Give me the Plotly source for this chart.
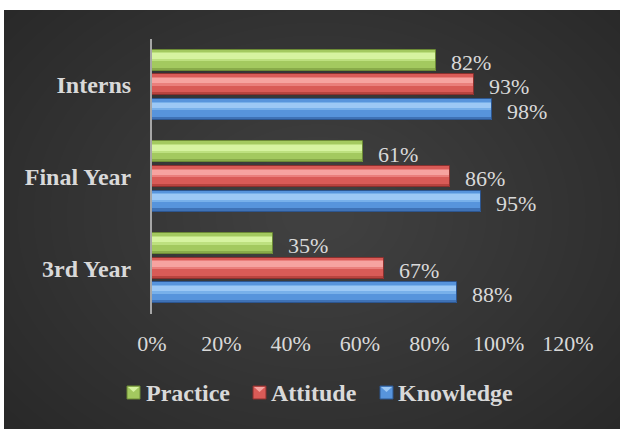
import plotly.graph_objects as go

# ---- data -------------------------------------------------------------
groups = ["3rd Year", "Final Year", "Interns"]
practice = [35, 61, 82]
attitude = [67, 86, 93]
knowledge = [88, 95, 98]
series_names = ["Practice", "Attitude", "Knowledge"]
x_ticks = [0, 20, 40, 60, 80, 100, 120]

# ---- styling ----------------------------------------------------------
W, H = 620, 429
M_L, M_R, M_T, M_B = 152, 52, 39, 115
PW, PH = W - M_L - M_R, H - M_T - M_B

FONT = "Liberation Serif"
TXT = "#d9d9d9"

palette = {
    "Practice": dict(body="#a3c95f", mid="#bde07f", light="#d6f3a0", dark="#89ab4a", edge="#6c8a36"),
    "Attitude": dict(body="#d95b57", mid="#ea7f7c", light="#f6a3a0", dark="#b8443f", edge="#8a302e"),
    "Knowledge": dict(body="#5794dc", mid="#78b0ea", light="#9cc8f5", dark="#3f72b6", edge="#2d5690"),
}

BAR_H = 0.23        # bar thickness in category units
PITCH = 0.268       # distance between bar centres inside a group
centres = {"Practice": PITCH, "Attitude": 0.0, "Knowledge": -PITCH}
values = {"Practice": practice, "Attitude": attitude, "Knowledge": knowledge}

# shading bands: (key, offset from bar centre, band width) in category units
bands = [
    ("mid", -0.01, 0.095),
    ("light", 0.015, 0.06),
    ("dark", -BAR_H / 2, 0.035),
]


def px_x(px):
    return (px - M_L) / PW


def px_y(py):
    return (H - M_B - py) / PH


fig = go.Figure()

for name in series_names:
    c = centres[name]
    col = palette[name]
    vals = values[name]
    fig.add_trace(go.Bar(
        x=vals, y=groups, orientation="h", name=name,
        offset=c - BAR_H / 2, width=BAR_H,
        marker=dict(color=col["body"], line=dict(width=0)),
        showlegend=False, hovertemplate=name + ": %{x}%<extra></extra>",
    ))
    for key, off, wid in bands:
        fig.add_trace(go.Bar(
            x=vals, y=groups, orientation="h",
            offset=c + off, width=wid,
            marker=dict(color=col[key], line=dict(width=0)),
            showlegend=False, hoverinfo="skip",
        ))
    fig.add_trace(go.Bar(
        x=vals, y=groups, orientation="h",
        offset=c - BAR_H / 2, width=BAR_H,
        marker=dict(color="rgba(0,0,0,0)", line=dict(width=1, color=col["edge"])),
        showlegend=False, hoverinfo="skip",
    ))

# value labels to the right of each bar
annotations = []
shift_px = {"Practice": 24.5, "Attitude": 0.0, "Knowledge": -24.5}
for name in series_names:
    for g, v in zip(groups, values[name]):
        annotations.append(dict(
            x=v, y=g, xref="x", yref="y", text=f"{v}%",
            showarrow=False, xanchor="left", yanchor="middle",
            xshift=13, yshift=shift_px[name] - 2,
            font=dict(family=FONT, size=22, color=TXT),
        ))

# legend drawn as swatches + labels
legend_pos = {"Practice": (127, 144), "Attitude": (253, 269), "Knowledge": (380, 396)}
shapes = []

# dark panel with a soft radial glow
shapes.append(dict(type="rect", xref="paper", yref="paper", layer="below",
                   x0=px_x(4), x1=px_x(W + 2), y0=px_y(H + 2), y1=px_y(10),
                   fillcolor="#262626", line=dict(width=0)))
cx, cy = 318, 215
N = 26
for i in range(N):
    f = 1 - i / N
    rx, ry = 430 * f + 20, 330 * f + 15
    shapes.append(dict(type="circle", xref="paper", yref="paper", layer="below",
                       x0=px_x(cx - rx), x1=px_x(cx + rx),
                       y0=px_y(cy + ry), y1=px_y(cy - ry),
                       fillcolor="rgba(255,255,255,0.0075)", line=dict(width=0)))
# white frame strips along the top and left edges
shapes.append(dict(type="rect", xref="paper", yref="paper", layer="below",
                   x0=px_x(-5), x1=px_x(W + 5), y0=px_y(10), y1=px_y(-5),
                   fillcolor="white", line=dict(width=0)))
shapes.append(dict(type="rect", xref="paper", yref="paper", layer="below",
                   x0=px_x(-5), x1=px_x(4), y0=px_y(H + 5), y1=px_y(-5),
                   fillcolor="white", line=dict(width=0)))

for name in series_names:
    bx, tx = legend_pos[name]
    col = palette[name]
    shapes.append(dict(type="rect", xref="paper", yref="paper",
                       x0=px_x(bx), x1=px_x(bx + 13), y0=px_y(399), y1=px_y(386),
                       fillcolor=col["body"], line=dict(width=1, color=col["edge"])))
    shapes.append(dict(type="path", xref="paper", yref="paper",
                       path=(f"M {px_x(bx + 1)},{px_y(387)} L {px_x(bx + 12)},{px_y(387)} "
                             f"L {px_x(bx + 6.5)},{px_y(392)} Z"),
                       fillcolor=col["light"], line=dict(width=0)))
    annotations.append(dict(
        x=px_x(tx), y=px_y(393), xref="paper", yref="paper", text=f"<b>{name}</b>",
        showarrow=False, xanchor="left", yanchor="middle",
        font=dict(family=FONT, size=24, color=TXT),
    ))

fig.update_layout(
    width=W, height=H,
    margin=dict(l=M_L, r=M_R, t=M_T, b=M_B, pad=0),
    paper_bgcolor="white", plot_bgcolor="rgba(0,0,0,0)",
    barmode="overlay", bargap=0,
    showlegend=False,
    annotations=annotations, shapes=shapes,
    font=dict(family=FONT, color=TXT),
)
fig.update_xaxes(
    range=[0, 120], tickvals=x_ticks, ticktext=[f"{t}%" for t in x_ticks],
    showgrid=False, zeroline=False, showline=False, ticks="",
    tickfont=dict(family=FONT, size=22, color=TXT), ticklabelstandoff=14,
)
fig.update_yaxes(
    categoryorder="array", categoryarray=groups,
    showgrid=False, zeroline=False, showline=True, linecolor="#a6a6a6", linewidth=2,
    ticks="", tickprefix="<b>", ticksuffix="</b>",
    tickfont=dict(family=FONT, size=24, color=TXT), ticklabelstandoff=14,
)

fig.write_html("out.html")
